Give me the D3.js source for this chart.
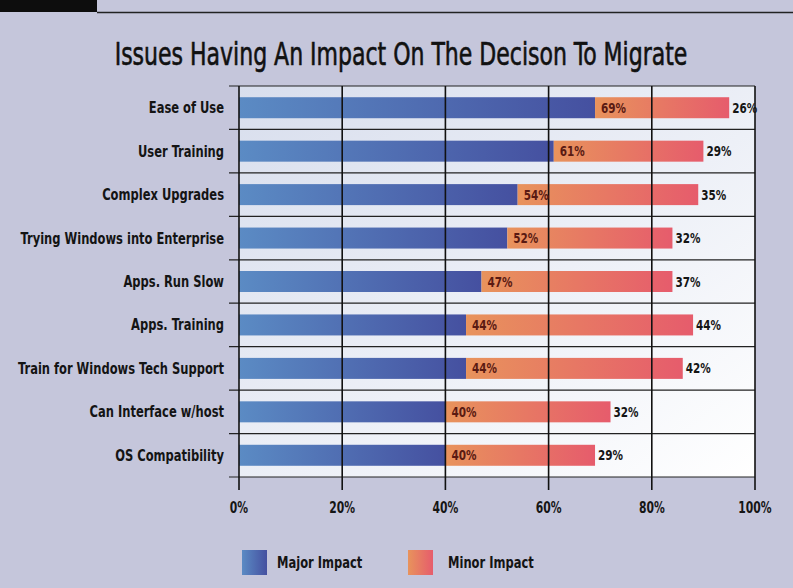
<!DOCTYPE html>
<html>
<head>
<meta charset="utf-8">
<script src="https://cdn.jsdelivr.net/npm/d3@7"></script>
<style>
  body { margin: 0; background: #c5c6db; }
  svg { display: block; }
  .lbl { font-family: "DejaVu Sans Condensed", "Liberation Sans", sans-serif; font-weight: bold; }
</style>
</head>
<body>
<script>
var categories = ['Ease of Use', 'User Training', 'Complex Upgrades', 'Trying Windows into Enterprise',
  'Apps. Run Slow', 'Apps. Training', 'Train for Windows Tech Support', 'Can Interface w/host', 'OS Compatibility']
var major = [69, 61, 54, 52, 47, 44, 44, 40, 40]
var minor = [26, 29, 35, 32, 37, 44, 42, 32, 29]
var ticks = [0, 20, 40, 60, 80, 100]
var seriesNames = ['Major Impact', 'Minor Impact']

let w = 793
let h = 588
let plotL = 239, plotR = 755, plotT = 86, plotB = 477
let sq = 0.8  // horizontal squeeze for the bold condensed labels

let svg = d3.select('body').append('svg').attr('width', w).attr('height', h)

let defs = svg.append('defs')
let bg = defs.append('linearGradient').attr('id', 'bg').attr('x1', 0).attr('y1', 0).attr('x2', 1).attr('y2', 1)
bg.append('stop').attr('offset', '0%').attr('stop-color', '#d8deed')
bg.append('stop').attr('offset', '55%').attr('stop-color', '#edf0f7')
bg.append('stop').attr('offset', '100%').attr('stop-color', '#ffffff')

let gBlue = defs.append('linearGradient').attr('id', 'blue')
gBlue.append('stop').attr('offset', '0%').attr('stop-color', '#5b8bc4')
gBlue.append('stop').attr('offset', '100%').attr('stop-color', '#4550a0')
let gRed = defs.append('linearGradient').attr('id', 'red')
gRed.append('stop').attr('offset', '0%').attr('stop-color', '#e8935c')
gRed.append('stop').attr('offset', '100%').attr('stop-color', '#e65c6c')

// page background bits
svg.append('rect').attr('width', w).attr('height', h).attr('fill', '#c5c6db')
svg.append('rect').attr('x', 0).attr('y', 0).attr('width', 97).attr('height', 12).attr('fill', '#0d0d0d')
svg.append('line').attr('x1', 97).attr('x2', w).attr('y1', 12.5).attr('y2', 12.5)
  .attr('stroke', '#222').attr('stroke-width', 1.5)

let title = svg.append('text')
  .attr('text-anchor', 'middle')
  .style('font-family', '"DejaVu Sans Condensed", sans-serif')
  .style('font-size', '32px')
  .attr('fill', '#111')
  .attr('stroke', '#111').attr('stroke-width', 0.6)
  .text('Issues Having An Impact On The Decison To Migrate')
let tw = title.node().getComputedTextLength()
title.attr('transform', 'translate(401,65) scale(' + (573 / tw) + ',1)')

let x = d3.scaleLinear().domain([0, 100]).range([plotL, plotR])
let y = d3.scaleBand().domain(categories).range([plotT, plotB])

svg.append('rect').attr('x', plotL).attr('y', plotT).attr('width', plotR - plotL).attr('height', plotB - plotT)
  .attr('fill', 'url(#bg)')

// row separators
svg.selectAll('line.row')
  .data(d3.range(categories.length + 1))
  .enter().append('line')
  .attr('x1', plotL - 10).attr('x2', plotR)
  .attr('y1', i => plotT + i * y.step()).attr('y2', i => plotT + i * y.step())
  .attr('stroke', '#222').attr('stroke-width', 1.2)

let barH = 21
let rows = categories.map((c, i) => ({ c: c, a: major[i], b: minor[i] }))

svg.selectAll('rect.maj')
  .data(rows).enter().append('rect')
  .attr('x', x(0))
  .attr('y', d => y(d.c) + (y.bandwidth() - barH) / 2)
  .attr('width', d => x(d.a) - x(0))
  .attr('height', barH)
  .attr('fill', 'url(#blue)')

svg.selectAll('rect.min')
  .data(rows).enter().append('rect')
  .attr('x', d => x(d.a))
  .attr('y', d => y(d.c) + (y.bandwidth() - barH) / 2)
  .attr('width', d => x(d.a + d.b) - x(d.a))
  .attr('height', barH)
  .attr('fill', 'url(#red)')

// vertical grid + ticks
svg.selectAll('line.grid')
  .data(ticks).enter().append('line')
  .attr('x1', d => x(d)).attr('x2', d => x(d))
  .attr('y1', plotT).attr('y2', plotB + 13)
  .attr('stroke', '#111').attr('stroke-width', 1.6)

let tr = (px, py) => 'translate(' + px + ',' + py + ') scale(' + sq + ',1)'

svg.selectAll('text.tick')
  .data(ticks).enter().append('text')
  .attr('class', 'lbl')
  .attr('transform', d => tr(x(d), 513))
  .attr('text-anchor', 'middle')
  .style('font-size', '15px')
  .attr('fill', '#151515')
  .text(d => d + '%')

svg.selectAll('text.cat')
  .data(rows).enter().append('text')
  .attr('class', 'lbl')
  .attr('transform', d => tr(224, y(d.c) + y.bandwidth() / 2 + 5.5))
  .attr('text-anchor', 'end')
  .style('font-size', '16px')
  .attr('fill', '#141414')
  .text(d => d.c)

svg.selectAll('text.va')
  .data(rows).enter().append('text')
  .attr('class', 'lbl')
  .attr('transform', d => tr(x(d.a) + 6, y(d.c) + y.bandwidth() / 2 + 5))
  .style('font-size', '14.5px')
  .attr('fill', '#5a1a12')
  .text(d => d.a + '%')

svg.selectAll('text.vb')
  .data(rows).enter().append('text')
  .attr('class', 'lbl')
  .attr('transform', d => tr(x(d.a + d.b) + 3, y(d.c) + y.bandwidth() / 2 + 5))
  .style('font-size', '14.5px')
  .attr('fill', '#151515')
  .text(d => d.b + '%')

// legend
let leg = svg.selectAll('g.leg')
  .data(seriesNames).enter().append('g')
  .attr('transform', (d, i) => 'translate(' + (242 + i * 166) + ',550)')
leg.append('rect').attr('width', 25).attr('height', 25)
  .attr('fill', (d, i) => i ? 'url(#red)' : 'url(#blue)')
leg.append('text')
  .attr('class', 'lbl')
  .attr('transform', (d, i) => tr(35 + i * 5, 17.5))
  .style('font-size', '16px')
  .attr('fill', '#141414')
  .text(d => d)
</script>
</body>
</html>
